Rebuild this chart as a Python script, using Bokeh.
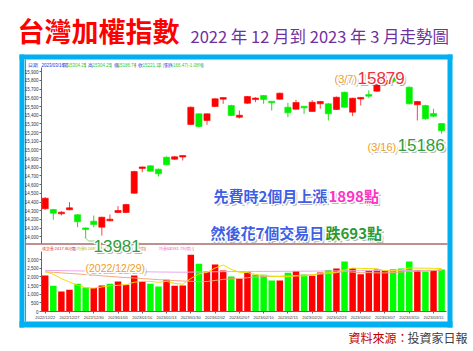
import numpy as np
from bokeh.plotting import figure
from bokeh.models import Range1d, LinearAxis, FixedTicker, NumeralTickFormatter, ColumnDataSource
from bokeh.core.properties import value
from bokeh.embed import file_html
from bokeh.resources import INLINE

# ---------------- data ----------------
dates = ["2022/12/22", "2022/12/23", "2022/12/26", "2022/12/27", "2022/12/28", "2022/12/29", "2022/12/30",
         "2023/01/03", "2023/01/04", "2023/01/05", "2023/01/06", "2023/01/09", "2023/01/10", "2023/01/11",
         "2023/01/12", "2023/01/13", "2023/01/16", "2023/01/17", "2023/01/30", "2023/01/31",
         "2023/02/01", "2023/02/02", "2023/02/03", "2023/02/06", "2023/02/07", "2023/02/08", "2023/02/09",
         "2023/02/10", "2023/02/13", "2023/02/14", "2023/02/15", "2023/02/16", "2023/02/17", "2023/02/20",
         "2023/02/21", "2023/02/22", "2023/02/23", "2023/02/24", "2023/03/01", "2023/03/02", "2023/03/03",
         "2023/03/06", "2023/03/07", "2023/03/08", "2023/03/09", "2023/03/10", "2023/03/13", "2023/03/14",
         "2023/03/15", "2023/03/16"]

opens = [14322, 14314, 14264, 14310, 14253, 14100, 14179, 14110, 14183, 14279, 14279, 14501, 14790, 14817,
         14778, 14916, 14893, 14922, 15293, 15416, 15339, 15500, 15590, 15512, 15377, 15538, 15585, 15627,
         15555, 15584, 15492, 15469, 15497, 15443, 15531, 15531, 15466, 15665, 15435, 15592, 15632, 15677,
         15760, 15830, 15823, 15723, 15520, 15512, 15420, 15304.25]
highs = [14455, 14320, 14294, 14398, 14260, 14105, 14244, 14230, 14256, 14352, 14380, 14760, 14806, 14825,
         14785, 14925, 14930, 14936, 15500, 15420, 15420, 15595, 15605, 15520, 15454, 15620, 15607, 15632,
         15560, 15660, 15543, 15577, 15500, 15573, 15565, 15540, 15615, 15670, 15600, 15610, 15685, 15755,
         15879, 15860, 15835, 15730, 15565, 15520, 15474, 15304.25]
lows = [14310, 14195, 14245, 14305, 14110, 13981, 14110, 14014, 14180, 14275, 14275, 14495, 14743, 14750,
        14694, 14825, 14885, 14878, 15285, 15260, 15289, 15495, 15531, 15390, 15362, 15530, 15550, 15531,
        15454, 15580, 15377, 15465, 15416, 15440, 15474, 15339, 15460, 15488, 15389, 15512, 15600, 15670,
        15740, 15770, 15740, 15525, 15339, 15350, 15380, 15186.74]
closes = [14444, 14271, 14283, 14333, 14172, 14085, 14141, 14225, 14202, 14302, 14371, 14751, 14801, 14755,
          14725, 14829, 14921, 14932, 15492, 15270, 15416, 15589, 15598, 15397, 15400, 15615, 15592, 15581,
          15548, 15654, 15428, 15546, 15490, 15550, 15558, 15416, 15607, 15492, 15596, 15600, 15625, 15750,
          15800, 15790, 15765, 15531, 15558, 15359, 15387.6, 15221.13]
prev_close = 14300.0

volumes = [2080, 1480, 1150, 1250, 1600, 1390, 1350, 1500, 1600, 1730, 1540, 2080, 1750, 1600, 1440, 1830,
           1480, 1500, 3270, 2750, 2310, 2710, 2370, 2020, 1890, 2270, 2120, 2120, 1790, 1790, 2230, 2330,
           2140, 2060, 2250, 2400, 2480, 2890, 2500, 2150, 2370, 2420, 2330, 2440, 2480, 2890, 2390, 2310,
           2400, 2417.8]
vol_ma5 = [2300, 2150, 1900, 1700, 1512, 1374, 1347, 1416, 1485, 1512, 1543, 1689, 1739, 1739, 1682, 1739,
           1620, 1570, 1905, 2167, 2262, 2509, 2682, 2432, 2259, 2251, 2131, 2081, 2035, 2015, 2008, 2050,
           2054, 2108, 2200, 2235, 2266, 2416, 2504, 2485, 2477, 2466, 2354, 2343, 2408, 2512, 2504, 2500,
           2493, 2480.15]
vol_ma20 = [2290, 2262, 2228, 2196, 2170, 2132, 2096, 2061, 2022, 1990, 1957, 1935, 1902, 1870, 1838, 1812,
            1784, 1760, 1745, 1718, 1730, 1791, 1852, 1890, 1905, 1949, 1987, 2018, 2028, 2031, 2065, 2078,
            2097, 2120, 2160, 2189, 2239, 2308, 2270, 2240, 2243, 2228, 2226, 2247, 2277, 2308, 2321, 2331,
            2362, 2393.5]
vol_ma60 = [2372, 2365, 2358, 2350, 2344, 2336, 2330, 2322, 2316, 2310, 2303, 2298, 2292, 2286, 2280, 2276,
            2270, 2266, 2275, 2282, 2287, 2295, 2300, 2304, 2306, 2310, 2312, 2315, 2316, 2318, 2322, 2325,
            2327, 2330, 2334, 2338, 2342, 2348, 2352, 2355, 2358, 2361, 2364, 2366, 2369, 2373, 2375, 2377,
            2380, 2381.79]

price_ticks = [14000, 14100, 14200, 14300, 14400, 14500, 14600, 14700, 14800, 14900,
               15000, 15100, 15200, 15300, 15400, 15500, 15600, 15700, 15800, 15900]
vol_ticks = [0, 500, 1000, 1500, 2000, 2500, 3000]
date_tick_step = 3

title_text = "台灣加權指數"
subtitle_text = "2022 年 12 月到 2023 年 3 月走勢圖"
source_label = "資料來源："
source_name = "投資家日報"
line1_a, line1_b = "先費時2個月上漲", "1898點"
line2_a, line2_b = "然後花7個交易日", "跌693點"
low_text, low_date = "13981", "(2022/12/29)"
high_text, high_date = "15879", "(3/7)"
last_text, last_date = "15186", "(3/16)"

info_row = [("日期", "#2233dd"), ("2023/03/16", "#2233dd"), ("開", "#2233dd"), ("15304.25", "#33cc33"),
            ("|", "#555555"), ("高", "#2233dd"), ("15304.25", "#33cc33"), ("|", "#555555"),
            ("低", "#2233dd"), ("15186.74", "#33cc33"), ("|", "#555555"), ("收", "#2233dd"),
            ("15221.13", "#33cc33"), ("|", "#555555"), ("漲跌", "#2233dd"), ("-166.47(-1.08%)", "#33cc33"),
            ("|", "#555555")]
info_x = [27, 41, 62, 67, 84, 87, 92, 110, 113, 117, 134, 137, 142, 158, 162, 171, 201]
vol_row = [("成交量", "#ee2222"), ("2417.80(億)", "#ee2222"), ("|", "#555555"), ("均量5", "#b5b500"),
           ("2480.15(億)", "#b5b500"), ("|", "#555555"), ("均量20", "#e88060"), ("2393.50(億)", "#e88060"),
           ("|", "#555555"), ("均量60", "#ee66cc"), ("2381.79(億)", "#ee66cc"), ("|", "#555555")]
vol_row_x = [41, 54, 73, 76, 87, 107, 110, 123, 144, 158, 169, 192]

# ---------------- layout constants ----------------
W, H = 473, 351
SANS = "Liberation Sans"
CJK = "Noto Sans CJK TC"
BAR_PX, BAR0_PX = 8.09, 44.7
PRICE_PX, PRICE_REF, PRICE_REF_Y = 0.0868, 15900, 71.3
VOL_PX, VOL_ZERO_Y = 0.01733, 311.0

n = len(dates)
idx = np.arange(n)
o = np.array(opens, float); c = np.array(closes, float)
hi = np.array(highs, float); lo = np.array(lows, float)
up = c >= o
btop = np.maximum(o, c); bbot = np.minimum(o, c)
mid = (btop + bbot) / 2
thin = (btop - bbot) < 18
btop = np.where(thin, mid + 9, btop)
bbot = np.where(thin, mid - 9, bbot)
candle_col = np.where(up, "#ff0000", "#00f000")
wick_col = np.where(up, "#ff4040", "#22dd22")
pc = np.concatenate([[prev_close], c[:-1]])
vol_col = np.where(c >= pc, "#ff0000", "#00ff00")

p = figure(width=W, height=H, output_backend="svg", toolbar_location=None,
           x_range=Range1d(0, W), y_range=Range1d(H, 0),
           x_axis_location=None, y_axis_location=None, min_border=0,
           min_border_left=0, min_border_right=0, min_border_top=0, min_border_bottom=0,
           outline_line_color=None, background_fill_color="white", border_fill_color="white")
p.grid.visible = False

x0 = -BAR0_PX / BAR_PX
ptop = PRICE_REF + PRICE_REF_Y / PRICE_PX
p.extra_x_ranges = {"bars": Range1d(x0, x0 + W / BAR_PX)}
p.extra_y_ranges = {"price": Range1d(ptop - H / PRICE_PX, ptop),
                    "vol": Range1d(-(H - VOL_ZERO_Y) / VOL_PX, VOL_ZERO_Y / VOL_PX)}

# ---------------- frame chrome ----------------
p.quad(left=[19, 19, 19, 447], right=[452, 452, 23.5, 452], top=[54, 321, 54, 54],
       bottom=[59, 327, 327, 327], fill_color="#00b0f0", line_color=None)
p.line(x=[24.8, 24.8], y=[59, 321], line_color="#00b0f0", line_width=1.5)
p.line(x=[25, 447], y=[243.5, 243.5], line_color="#a86c6c", line_width=1.5)

# ---------------- volume ----------------
vsrc = ColumnDataSource(dict(x=idx, v=volumes, col=vol_col, m5=vol_ma5, m20=vol_ma20, m60=vol_ma60))
p.vbar(x="x", top="v", bottom=0, width=0.8, fill_color="col", line_color=None, source=vsrc,
       x_range_name="bars", y_range_name="vol")
p.line(x="x", y="m60", line_color="#eaa8ea", line_width=1, source=vsrc, x_range_name="bars", y_range_name="vol")
p.line(x="x", y="m20", line_color="#f4a882", line_width=1, source=vsrc, x_range_name="bars", y_range_name="vol")
p.line(x="x", y="m5", line_color="#eee000", line_width=1, source=vsrc, x_range_name="bars", y_range_name="vol")

# ---------------- candles ----------------
csrc = ColumnDataSource(dict(x=idx, hi=hi, lo=lo, bt=btop, bb=bbot, col=candle_col, wc=wick_col))
p.segment(x0="x", y0="lo", x1="x", y1="hi", line_color="wc", line_width=1, source=csrc,
          x_range_name="bars", y_range_name="price")
p.vbar(x="x", top="bt", bottom="bb", width=0.76, fill_color="col", line_color="col", line_width=0.6,
       source=csrc, x_range_name="bars", y_range_name="price")

# ---------------- axes ----------------
def style_axis(ax, size):
    ax.axis_line_color = "#666666"
    ax.major_tick_line_color = "#666666"
    ax.minor_tick_line_color = None
    ax.major_tick_out = 2
    ax.major_tick_in = 0
    ax.major_label_standoff = 1
    ax.major_label_text_font = SANS
    ax.major_label_text_font_size = size
    ax.major_label_text_color = "#333333"

pax = LinearAxis(y_range_name="price", fixed_location=41, ticker=FixedTicker(ticks=price_ticks),
                 formatter=NumeralTickFormatter(format="0,0"), bounds=(13919, 15950))
style_axis(pax, "4.5px")
p.add_layout(pax, "left")
vax = LinearAxis(y_range_name="vol", fixed_location=41, ticker=FixedTicker(ticks=vol_ticks),
                 formatter=NumeralTickFormatter(format="0,0"), bounds=(0, 3460))
style_axis(vax, "4.5px")
p.add_layout(vax, "left")
dticks = list(range(0, n, date_tick_step))
xax = LinearAxis(x_range_name="bars", fixed_location=VOL_ZERO_Y, ticker=FixedTicker(ticks=dticks),
                 major_label_overrides={i: dates[i] for i in dticks}, bounds=(-0.46, 49.6))
style_axis(xax, "4px")
p.add_layout(xax, "below")

# ---------------- small info rows ----------------
isrc = ColumnDataSource(dict(x=info_x, y=[64.5] * len(info_x), t=[s for s, _ in info_row],
                             col=[k for _, k in info_row]))
p.text(x="x", y="y", text="t", text_color="col", source=isrc, text_font=value(SANS),
       text_font_size="4.5px", text_baseline="middle", text_align="left")
vrsrc = ColumnDataSource(dict(x=vol_row_x, y=[247.5] * len(vol_row_x), t=[s for s, _ in vol_row],
                              col=[k for _, k in vol_row]))
p.text(x="x", y="y", text="t", text_color="col", source=vrsrc, text_font=value(SANS),
       text_font_size="4.2px", text_baseline="middle", text_align="left")

# ---------------- titles ----------------
p.text(x=[17], y=[30], text=[title_text], text_font=value(CJK), text_font_style="bold",
       text_font_size="27px", text_color="#ff0000", text_baseline="middle")
p.text(x=[190], y=[35], text=[subtitle_text], text_font=value(CJK), text_font_size="16.5px",
       text_color="#7030a0", text_baseline="middle")
p.text(x=[348], y=[337], text=[source_label], text_font=value(CJK), text_font_size="12px",
       text_color="#c00000", text_baseline="middle")
p.text(x=[407], y=[337], text=[source_name], text_font=value(CJK), text_font_size="12px",
       text_color="#404040", text_baseline="middle")

# ---------------- callouts ----------------
p.line(x=[84.5, 88, 95], y=[237, 240.5, 240.5], line_color="#7fd87f", line_width=1)

HALO = [(-1.4, 0), (1.4, 0), (0, -1.4), (0, 1.4), (-1, -1), (1, -1), (-1, 1), (1, 1)]

def fancy(x, y, txt, color, size, font=SANS, bold=False):
    style = "bold" if bold else "normal"
    common = dict(text_font=value(font), text_font_style=style, text_font_size=size, text_baseline="middle")
    p.text(x=[x], y=[y], text=[txt], x_offset=2.2, y_offset=2.2, text_color="#707070", text_alpha=0.5, **common)
    for dx, dy in HALO:
        p.text(x=[x], y=[y], text=[txt], x_offset=dx, y_offset=dy, text_color="white", **common)
    p.text(x=[x], y=[y], text=[txt], text_color=color, **common)

fancy(93, 245, low_text, "#2e9e3e", "17px")
fancy(85, 267.5, low_date, "#f0a020", "10.5px")
fancy(334, 78, high_date, "#f0a020", "11px")
fancy(357, 77, high_text, "#f03040", "17px")
fancy(367, 146.5, last_date, "#f0a020", "11px")
fancy(397, 144, last_text, "#2e9e3e", "17px")
fancy(213, 195, line1_a, "#3d5fe6", "15px", CJK, True)
fancy(328, 195, line1_b, "#ff33c4", "15px", CJK, True)
fancy(210, 232, line2_a, "#3d5fe6", "15px", CJK, True)
fancy(325, 232, line2_b, "#2a9a35", "15px", CJK, True)

open("out.html", "w").write(file_html(p, INLINE))
